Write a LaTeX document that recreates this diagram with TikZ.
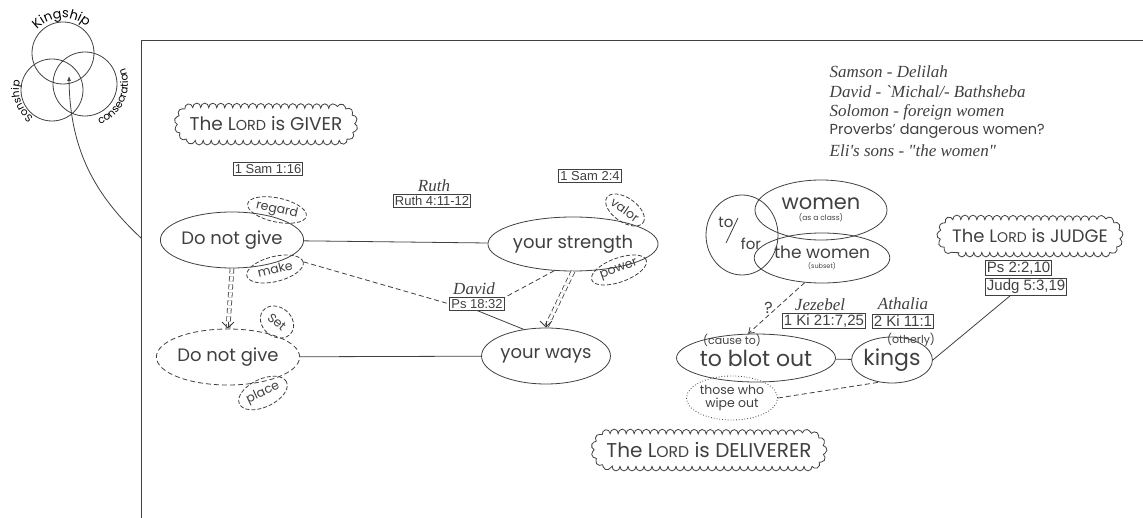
\documentclass[tikz,border=0pt]{standalone}
\usepackage{fontspec}
\setmainfont{Poppins}
\newfontfamily\reffont{Liberation Sans}
\newfontfamily\handfont{Liberation Serif}
\usetikzlibrary{arrows.meta,shapes.geometric,decorations.text,decorations.pathmorphing}
\newcommand\Lord{L\scalebox{0.78}{ORD}}
\newcommand\fsz[1]{\fontsize{#1}{#1}\selectfont}
\newcommand\puffs[1]{\draw[cloudline] ([xshift=16pt]#1.south west) -- ([xshift=-16pt]#1.south east)
  arc[start angle=-90, end angle=90, radius=16pt] -- ([xshift=16pt]#1.north west)
  arc[start angle=90, end angle=270, radius=16pt] -- cycle;}

\begin{document}
\begin{tikzpicture}[x=1pt, y=1pt, line width=0.8pt, color=black!75,
  bubble/.style={draw, ellipse, inner sep=0pt, font=\fsz{18}},
  tag/.style={draw, ellipse, dash pattern=on 4pt off 2pt, inner sep=0pt, font=\fsz{12.5}},
  ref/.style={draw, inner sep=1.5pt, font=\reffont\fsz{13}},
  hand/.style={font=\handfont\itshape\fsz{17}},
  cloudbox/.style={inner xsep=10pt, inner ysep=0pt, minimum height=32pt, font=\fsz{18.5}},
  cloudline/.style={decorate, decoration={bumps, mirror, segment length=16pt, amplitude=4.5pt}},
  dashline/.style={dash pattern=on 5pt off 3pt},
  dbl/.style={double, double distance=3pt, dash pattern=on 5pt off 3pt},
  dbltip/.style={-{Straight Barb[length=6pt, width=12pt]}},
  small/.style={font=\fsz{11}}]
\useasboundingbox (0,0) rectangle (1143,-518);

\draw (141,-518) -- (141,-40) -- (1143,-40);

\draw (63,-53) circle (31);
\draw (52,-90) circle (31);
\draw (85,-84) circle (32);
\path[decorate, decoration={text along path, text align=center, text={|\fsz{13}|Kingship}}]
  (63,-53) ++(150:35) arc[start angle=150, end angle=35, radius=35];
\path[decorate, decoration={text along path, text align=center, text={|\fsz{10.5}|Sonship}}]
  (52,-90) ++(240:33) arc[start angle=240, end angle=160, radius=33];
\path[decorate, decoration={text along path, text align=center, text={|\fsz{10.5}|consecration}}]
  (85,-84) ++(-80:43) arc[start angle=-80, end angle=32, radius=43];
\coordinate (vennmid) at (69,-76);
\coordinate (framept) at (141,-238);
\draw[-{Latex[length=5pt, width=4pt]}] (framept) .. controls (95,-195) and (70,-150) .. (vennmid);

\node[cloudbox] (giver) at (266,-124) {The \Lord\ is GIVER};
\puffs{giver}
\node[ref] (refsamA) at (268,-169) {1 Sam 1:16};
\node[hand] (ruth) at (434,-186) {Ruth};
\node[ref] (refruth) at (432,-201) {Ruth 4:11-12};
\node[ref] (refsamB) at (590,-176) {1 Sam 2:4};

\node[bubble, minimum width=132pt, minimum height=56pt] (give) at (232,-240) {Do not give};
\node[tag, rotate=-12, minimum width=58pt, minimum height=24pt] (regard) at (277,-210) {regard};
\node[tag, rotate=14, minimum width=58pt, minimum height=25pt] (make) at (275,-269) {make};
\node[bubble, dashline, minimum width=124pt, minimum height=56pt] (giveB) at (228,-357) {Do not give};
\node[tag, rotate=-40, minimum width=36pt, minimum height=29pt] (set) at (277,-322) {Set};
\node[tag, rotate=25, minimum width=52pt, minimum height=28pt] (place) at (263,-393) {place};

\node[bubble, minimum width=130pt, minimum height=54pt] (strength) at (573,-244) {your strength};
\node[tag, rotate=-35, minimum width=44pt, minimum height=24pt] (valor) at (625,-210) {valor};
\node[tag, rotate=20, minimum width=58pt, minimum height=24pt] (power) at (619,-270) {power};
\node[bubble, minimum width=112pt, minimum height=56pt] (ways) at (546,-356) {your ways};
\node[hand] (david) at (474,-289) {David};
\node[ref] (refps) at (477,-304) {Ps 18:32};

\draw (give) -- (strength);
\draw (giveB) -- (ways);
\draw[dashline] (make.east) -- (refps.west);
\draw[dashline] (strength.235) -- (refps.north east);
\draw (refps.south) -- (ways.130);
\draw[dbl] (give.south) -- (giveB.north);
\draw[dbltip] ([yshift=7pt]giveB.north) -- (giveB.north);
\draw[dbl] (strength.south) -- (ways.north);
\draw[dbltip] ([yshift=7pt]ways.north) -- (ways.north);

\node[hand, anchor=west] (samson) at (826,-72) {Samson - Delilah};
\node[hand, anchor=west] (davidB) at (826,-92) {David - `Michal/- Bathsheba};
\node[hand, anchor=west] (solomon) at (826,-112) {Solomon - foreign women};
\node[anchor=west, font=\fsz{14.5}] (proverbs) at (826,-131) {Proverbs' dangerous women?};
\node[hand, anchor=west] (eli) at (826,-151) {Eli's sons - "the women"};

\node[draw, ellipse, inner sep=0pt, minimum width=72pt, minimum height=80pt] (tofor) at (742,-235) {};
\node[font=\fsz{15}] (to) at (726,-222) {to};
\draw (726,-243) -- (738,-218);
\node[font=\fsz{15}] (for) at (751,-244) {for};
\node[draw, ellipse, inner sep=0pt, minimum width=132pt, minimum height=60pt, align=center] (women) at (821,-210)
  {{\fsz{21}women}\\[-1pt]{\fsz{7.5}(as a class)}};
\node[draw, ellipse, inner sep=0pt, minimum width=130pt, minimum height=50pt, align=center] (thewomen) at (822,-258)
  {{\fsz{17}the women}\\[-2pt]{\fsz{6.5}(subset)}};

\node[hand] (jezebel) at (820,-305) {Jezebel};
\node[ref, font=\reffont\fsz{15}] (refki) at (824,-321) {1 Ki 21:7,25};
\node[hand] (athalia) at (903,-304) {Athalia};
\node[ref, font=\reffont\fsz{15}] (refkiB) at (903,-321) {2 Ki 11:1};

\node[bubble, minimum width=125pt, minimum height=48pt, font=\fsz{22}] (blot) at (756,-358) {to blot out};
\node[small] (causeto) at (732,-340) {(cause to)};
\node[bubble, minimum width=80pt, minimum height=46pt, font=\fsz{22}] (kings) at (892,-360) {kings};
\node[small] (otherly) at (911,-340) {(otherly)};
\node[draw, ellipse, dotted, inner sep=0pt, minimum width=75pt, minimum height=44pt, align=center, font=\fsz{12.5}] (wipe) at (732,-398)
  {those who\\wipe out};

\draw[dashline, -{Straight Barb[length=5pt, width=7pt]}] (thewomen.235) -- node[left, font=\fsz{16}] {?} (blot.108);
\draw (blot) -- (kings);
\draw[dashline] (wipe.east) -- (kings.240);

\node[cloudbox, font=\fsz{18}] (judge) at (1030,-236) {The \Lord\ is JUDGE};
\puffs{judge}
\node[ref, anchor=west, font=\reffont\fsz{15}] (refpsB) at (985,-268) {Ps 2:2,10};
\node[ref, anchor=west, font=\reffont\fsz{15}] (refjudg) at (985,-287) {Judg 5:3,19};
\draw ([xshift=25pt]refjudg.south west) -- (kings.east);

\node[cloudbox, font=\fsz{20}] (deliverer) at (709,-450) {The \Lord\ is DELIVERER};
\puffs{deliverer}
\end{tikzpicture}
\end{document}
